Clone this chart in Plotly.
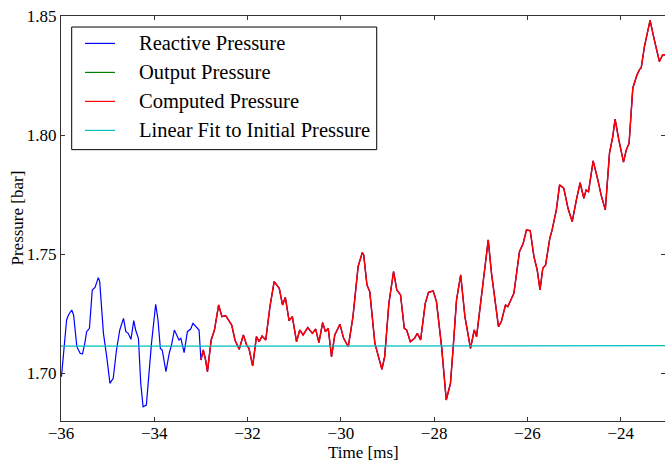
import plotly.graph_objects as go

# Reactive pressure trace (time in ms, pressure in bar)
time_ms = [
    -35.99, -35.88, -35.84, -35.77, -35.73, -35.66, -35.59, -35.54, -35.49, -35.45,
    -35.39, -35.33, -35.27, -35.20, -35.17, -35.09, -35.02, -34.95, -34.88, -34.81,
    -34.74, -34.66, -34.61, -34.56, -34.50, -34.44, -34.40, -34.34, -34.29, -34.24,
    -34.17, -34.13, -34.06, -33.97, -33.92, -33.87, -33.83, -33.75, -33.68, -33.63,
    -33.57, -33.52, -33.47, -33.43, -33.36, -33.29, -33.22, -33.17, -33.09, -33.04,
    -33.00, -32.95, -32.90, -32.86, -32.78, -32.71, -32.62, -32.55, -32.47, -32.34,
    -32.27, -32.18, -32.09, -32.02, -31.97, -31.89, -31.81, -31.75, -31.69, -31.61,
    -31.52, -31.43, -31.32, -31.25, -31.19, -31.11, -31.04, -30.95, -30.88, -30.81,
    -30.71, -30.61, -30.54, -30.47, -30.39, -30.33, -30.27, -30.20, -30.13, -30.02,
    -29.94, -29.84, -29.74, -29.63, -29.54, -29.51, -29.44, -29.38, -29.27, -29.20,
    -29.12, -29.06, -28.97, -28.87, -28.80, -28.72, -28.64, -28.59, -28.51, -28.42,
    -28.36, -28.29, -28.19, -28.12, -28.02, -27.95, -27.84, -27.74, -27.65, -27.59,
    -27.52, -27.43, -27.34, -27.22, -27.14, -27.09, -26.99, -26.84, -26.77, -26.70,
    -26.62, -26.56, -26.47, -26.42, -26.29, -26.17, -26.09, -26.02, -25.94, -25.86,
    -25.79, -25.73, -25.67, -25.61, -25.52, -25.47, -25.38, -25.31, -25.22, -25.13,
    -25.04, -24.95, -24.87, -24.79, -24.74, -24.69, -24.59, -24.49, -24.42, -24.33,
    -24.24, -24.17, -24.12, -24.04, -23.94, -23.88, -23.82, -23.74, -23.65, -23.59,
    -23.56, -23.49, -23.44, -23.37, -23.28, -23.17, -23.10, -23.05,
]
reactive_pressure = [
    1.6986, 1.7224, 1.7245, 1.7266, 1.7245, 1.7112, 1.7084, 1.7081, 1.7126, 1.7175,
    1.7189, 1.7350, 1.7361, 1.7402, 1.7385, 1.7168, 1.7070, 1.6958, 1.6979, 1.7098,
    1.7182, 1.7231, 1.7175, 1.7168, 1.7143, 1.7221, 1.7182, 1.7147, 1.6958, 1.6860,
    1.6867, 1.6958, 1.7126, 1.7290, 1.7224, 1.7105, 1.7098, 1.7007, 1.7084, 1.7119,
    1.7182, 1.7161, 1.7140, 1.7147, 1.7087, 1.7175, 1.7186, 1.7210, 1.7193, 1.7182,
    1.7056, 1.7098, 1.7056, 1.7007, 1.7140, 1.7182, 1.7287, 1.7238, 1.7242, 1.7203,
    1.7140, 1.7101, 1.7161, 1.7119, 1.7105, 1.7031, 1.7154, 1.7133, 1.7157, 1.7140,
    1.7280, 1.7385, 1.7357, 1.7287, 1.7319, 1.7221, 1.7238, 1.7133, 1.7182, 1.7161,
    1.7192, 1.7168, 1.7186, 1.7129, 1.7213, 1.7175, 1.7189, 1.7070, 1.7161, 1.7206,
    1.7147, 1.7112, 1.7238, 1.7448, 1.7507, 1.7497, 1.7371, 1.7343, 1.7126, 1.7077,
    1.7017, 1.7070, 1.7294, 1.7427, 1.7350, 1.7329, 1.7189, 1.7182, 1.7133, 1.7147,
    1.7168, 1.7140, 1.7294, 1.7340, 1.7346, 1.7301, 1.7112, 1.6888, 1.6958, 1.7112,
    1.7308, 1.7413, 1.7238, 1.7105, 1.7182, 1.7154, 1.7322, 1.7560, 1.7420, 1.7308,
    1.7196, 1.7217, 1.7287, 1.7280, 1.7336, 1.7511, 1.7546, 1.7602, 1.7599, 1.7490,
    1.7434, 1.7350, 1.7441, 1.7455, 1.7567, 1.7602, 1.7686, 1.7791, 1.7777, 1.7693,
    1.7637, 1.7728, 1.7800, 1.7735, 1.7770, 1.7763, 1.7892, 1.7812, 1.7749, 1.7686,
    1.7924, 1.7994, 1.8067, 1.7980, 1.7887, 1.7938, 1.7966, 1.8198, 1.8253, 1.8277,
    1.8282, 1.8373, 1.8415, 1.8482, 1.8401, 1.8309, 1.8337, 1.8337,
]

# Output / computed pressure start at t = -33.0 ms and follow the reactive trace
computed_start_ms = -33.00
start_idx = time_ms.index(computed_start_ms)
output_time = time_ms[start_idx:]
output_pressure = reactive_pressure[start_idx:]
computed_time = time_ms[start_idx:]
computed_pressure = reactive_pressure[start_idx:]

# Linear fit to the initial pressure
fit_time = [-36.0, -23.05]
fit_pressure = [1.7114, 1.7116]

x_ticks = [-36, -34, -32, -30, -28, -26, -24]
y_ticks = [1.70, 1.75, 1.80, 1.85]

legend_names = ["Reactive Pressure", "Output Pressure", "Computed Pressure",
                "Linear Fit to Initial Pressure"]
legend_colors = ["#0000ff", "#008000", "#ff0000", "#00bfbf"]

FONT = "Liberation Serif, Times New Roman, serif"

fig = go.Figure()
# output pressure drawn first: it is hidden beneath the other traces
fig.add_trace(go.Scatter(x=output_time, y=output_pressure, mode="lines",
                         line=dict(color=legend_colors[1], width=0.8), name=legend_names[1]))
fig.add_trace(go.Scatter(x=time_ms, y=reactive_pressure, mode="lines",
                         line=dict(color=legend_colors[0], width=1.2), name=legend_names[0]))
fig.add_trace(go.Scatter(x=computed_time, y=computed_pressure, mode="lines",
                         line=dict(color=legend_colors[2], width=1.5), name=legend_names[2]))
fig.add_trace(go.Scatter(x=fit_time, y=fit_pressure, mode="lines",
                         line=dict(color=legend_colors[3], width=1.2), name=legend_names[3]))

# Manual legend box (matplotlib style)
shapes = [dict(type="rect", xref="paper", yref="paper", x0=0.0177, x1=0.5227,
               y0=0.670, y1=0.9728, line=dict(color="black", width=1),
               fillcolor="white", layer="above")]
annotations = []
entry_y = [0.9323, 0.8607, 0.7891, 0.7175]
for name, col, yy in zip(legend_names, legend_colors, entry_y):
    shapes.append(dict(type="line", xref="paper", yref="paper", x0=0.0397, x1=0.0894,
                       y0=yy, y1=yy, line=dict(color=col, width=1.2), layer="above"))
    annotations.append(dict(xref="paper", yref="paper", x=0.1258, y=yy, text=name,
                            showarrow=False, xanchor="left", yanchor="middle",
                            font=dict(family=FONT, size=20.5, color="black")))

# Axis titles
annotations.append(dict(xref="paper", yref="paper", x=0.5, y=-0.0790, text="Time [ms]",
                        showarrow=False, xanchor="center", yanchor="middle",
                        font=dict(family=FONT, size=17, color="black")))
annotations.append(dict(xref="paper", yref="paper", x=-0.0728, y=0.5, text="Pressure [bar]",
                        showarrow=False, xanchor="center", yanchor="middle", textangle=-90,
                        font=dict(family=FONT, size=17, color="black")))

axis_common = dict(showgrid=False, zeroline=False, showline=True, linecolor="#333333",
                   linewidth=1, mirror="ticks", ticks="inside", ticklen=4,
                   tickcolor="#333333", tickfont=dict(family=FONT, size=17, color="black"))

fig.update_layout(
    width=665, height=462,
    margin=dict(l=61, r=0, t=16, b=41),
    paper_bgcolor="white", plot_bgcolor="white",
    showlegend=False,
    shapes=shapes, annotations=annotations,
    xaxis=dict(range=[-36, -23.05], tickvals=x_ticks, ticklabelstandoff=-3, **axis_common),
    yaxis=dict(range=[1.68, 1.85], tickvals=y_ticks, tickformat=".2f", **axis_common),
)

fig.write_html("out.html", config={"displayModeBar": False},
               post_script="document.body.style.margin='0';")
